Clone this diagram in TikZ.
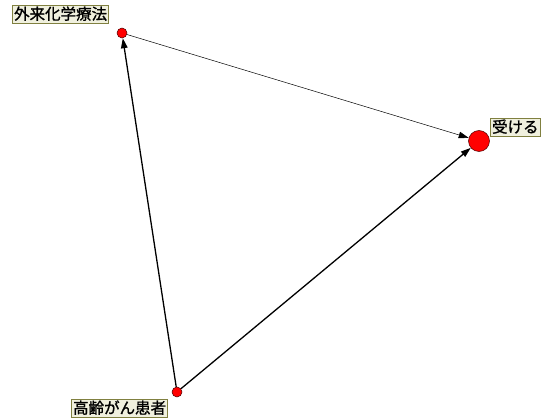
\documentclass[tikz,border=0pt]{standalone}
\usepackage{fontspec}
\newfontfamily\cjk[FakeBold=1.2]{Noto Sans CJK JP}
\usetikzlibrary{arrows.meta}
\definecolor{lblfill}{RGB}{240,240,222}
\definecolor{lbldraw}{RGB}{128,128,64}
\tikzset{
  lbl/.style={draw=lbldraw, fill=lblfill, line width=1.2pt, inner xsep=1.5pt, inner ysep=1pt,
    font=\cjk\fontsize{15.5}{16}\selectfont, text height=13pt, text depth=3pt, anchor=north west},
  dot/.style={circle, draw=black!70!red, line width=0.5pt, fill=red, inner sep=0pt, minimum size=#1},
  edge/.style={-{Triangle[length=10pt,width=6.5pt]}, line width=#1, draw=black},
}
\begin{document}
\begin{tikzpicture}[x=1pt,y=-1pt]
\useasboundingbox (0,0) rectangle (542,420);
\node[dot=10pt] (a) at (122,33) {};
\node[dot=21pt] (b) at (479,141) {};
\node[dot=10pt] (c) at (177,392) {};
\node[lbl] (la) at (12,5) {外来化学療法};
\node[lbl] (lb) at (490,118) {受ける};
\node[lbl] (lc) at (71,399) {高齢がん患者};
\draw[edge=0.5pt] (a) -- (b);
\draw[edge=1.3pt] (c) -- (a);
\draw[edge=1.3pt] (c) -- (b);
\end{tikzpicture}
\end{document}
